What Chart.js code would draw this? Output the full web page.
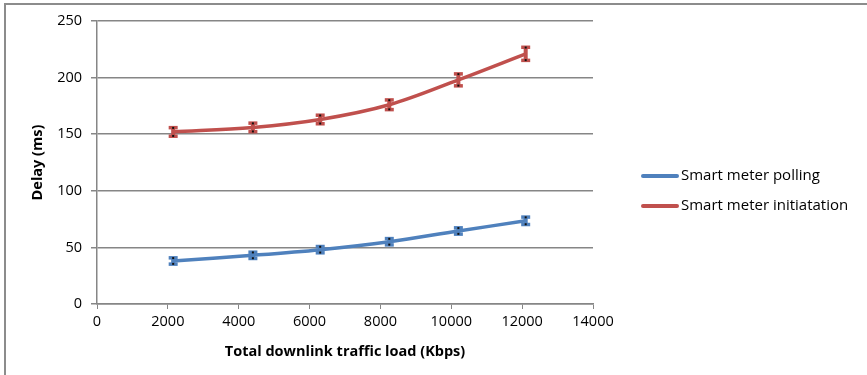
<!DOCTYPE html>
<html>
<head>
<meta charset="utf-8">
<script src="https://cdn.jsdelivr.net/npm/chart.js@4.4.0/dist/chart.umd.min.js"></script>
<style>
    html, body { margin: 0; padding: 0; background: #fff; }
    #wrap { position: relative; width: 867px; height: 375px; }
</style>
</head>
<body>
<div id="wrap"><canvas id="delayChart" width="867" height="375"></canvas></div>
<script>
// Traffic load values (Kbps)
const loads = [2150, 4400, 6300, 8250, 10200, 12100];

// Delay (ms) per series, with error bar half-heights
const pollingDelay = [38, 43, 48, 55, 64.5, 73.5];
const pollingErr = [3, 3, 3, 3, 3, 3.5];
const initDelay = [152, 156, 163, 176, 198, 221];
const initErr = [4, 4, 4, 4.5, 5.5, 6];

const seriesNames = ['Smart meter polling', 'Smart meter initiatation'];
const seriesColors = ['#4F81BD', '#C0504D'];

const xTicks = [0, 2000, 4000, 6000, 8000, 10000, 12000, 14000];
const yTicks = [0, 50, 100, 150, 200, 250];

const fontFamily = '"Open Sans", sans-serif';
const fontSize = 14.5;

function toPoints(ys) {
    return loads.map(function(x, i) { return { x: x, y: ys[i] }; });
}

// Excel style error bars: coloured I-beam with small dark end marks
const errorBars = {
    id: 'errorBars',
    afterDatasetsDraw: function(chart) {
        const ctx = chart.ctx;
        const yScale = chart.scales.y;
        chart.data.datasets.forEach(function(ds, i) {
            const meta = chart.getDatasetMeta(i);
            meta.data.forEach(function(pt, j) {
                const v = ds.data[j].y;
                const e = ds.errors[j];
                const top = yScale.getPixelForValue(v + e);
                const bot = yScale.getPixelForValue(v - e);
                const x = pt.x;
                ctx.save();
                ctx.fillStyle = ds.borderColor;
                ctx.fillRect(x - 2, top, 4, bot - top);
                ctx.fillRect(x - 4.5, top - 1.5, 9, 3.5);
                ctx.fillRect(x - 4.5, bot - 2, 9, 3.5);
                ctx.fillStyle = '#111';
                ctx.fillRect(x - 1, top - 0.5, 2, 2);
                ctx.fillRect(x - 1, bot - 1.5, 2, 2);
                ctx.restore();
            });
        });
    }
};

// Legend to the right of the plot
const sideLegend = {
    id: 'sideLegend',
    afterDraw: function(chart) {
        const ctx = chart.ctx;
        const rows = [176, 206];
        chart.data.datasets.forEach(function(ds, i) {
            const y = rows[i];
            ctx.save();
            ctx.strokeStyle = ds.borderColor;
            ctx.lineWidth = 4;
            ctx.lineCap = 'round';
            ctx.beginPath();
            ctx.moveTo(643, y);
            ctx.lineTo(677, y);
            ctx.stroke();
            ctx.fillStyle = '#000';
            ctx.font = '15px ' + fontFamily;
            ctx.textBaseline = 'middle';
            ctx.fillText(ds.label, 681, y);
            ctx.restore();
        });
    }
};

// Frame lines on top and left like the source picture
const frame = {
    id: 'frame',
    afterDraw: function(chart) {
        const ctx = chart.ctx;
        ctx.save();
        ctx.strokeStyle = '#8c8c8c';
        ctx.lineWidth = 2;
        ctx.beginPath();
        ctx.moveTo(5, 375);
        ctx.lineTo(5, 4);
        ctx.lineTo(867, 4);
        ctx.stroke();
        ctx.restore();
    }
};

new Chart(document.getElementById('delayChart'), {
    type: 'line',
    data: {
        datasets: [{
            label: seriesNames[0],
            data: toPoints(pollingDelay),
            errors: pollingErr,
            borderColor: seriesColors[0],
            backgroundColor: seriesColors[0],
            borderWidth: 3.5,
            pointRadius: 0,
            tension: 0.35,
            fill: false
        }, {
            label: seriesNames[1],
            data: toPoints(initDelay),
            errors: initErr,
            borderColor: seriesColors[1],
            backgroundColor: seriesColors[1],
            borderWidth: 3.5,
            pointRadius: 0,
            tension: 0.35,
            fill: false
        }]
    },
    options: {
        responsive: false,
        animation: false,
        layout: {
            padding: { left: 27, right: 274, top: 21, bottom: 14 }
        },
        scales: {
            x: {
                type: 'linear',
                min: 0,
                max: 14000,
                afterBuildTicks: function(scale) {
                    scale.ticks = xTicks.map(function(v) { return { value: v }; });
                },
                afterFit: function(scale) { scale.height = 57; },
                grid: {
                    drawOnChartArea: false,
                    color: '#868686',
                    tickLength: 5
                },
                border: { color: '#868686', width: 1.5 },
                ticks: {
                    color: '#000',
                    padding: 4,
                    maxRotation: 0,
                    callback: function(v) { return String(v); },
                    font: { family: fontFamily, size: fontSize }
                },
                title: {
                    display: true,
                    text: 'Total downlink traffic load (Kbps)',
                    color: '#000',
                    padding: { top: 0, bottom: 0 },
                    font: { family: fontFamily, size: fontSize, weight: 'bold' }
                }
            },
            y: {
                min: 0,
                max: 250,
                afterBuildTicks: function(scale) {
                    scale.ticks = yTicks.map(function(v) { return { value: v }; });
                },
                afterFit: function(scale) { scale.width = 70; },
                grid: {
                    color: '#868686',
                    lineWidth: 1.5,
                    tickLength: 6
                },
                border: { color: '#868686', width: 1.5 },
                ticks: {
                    color: '#000',
                    padding: 9,
                    callback: function(v) { return String(v); },
                    font: { family: fontFamily, size: fontSize }
                },
                title: {
                    display: true,
                    text: 'Delay (ms)',
                    color: '#000',
                    padding: { top: 2, bottom: 0 },
                    font: { family: fontFamily, size: fontSize, weight: 'bold' }
                }
            }
        },
        plugins: {
            legend: { display: false },
            tooltip: { enabled: false }
        }
    },
    plugins: [errorBars, sideLegend, frame]
});
</script>
</body>
</html>
